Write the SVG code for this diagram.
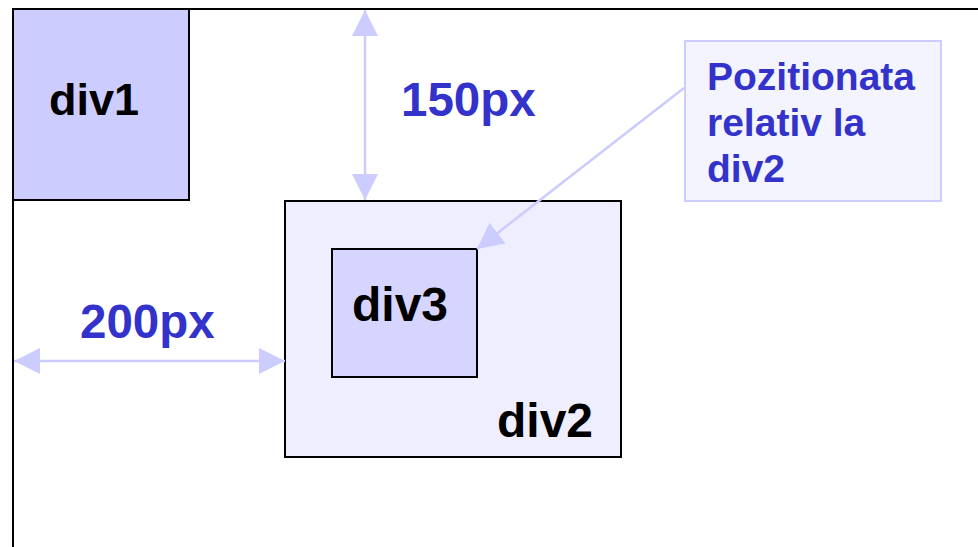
<svg xmlns="http://www.w3.org/2000/svg" width="978" height="547" viewBox="0 0 978 547">
<defs>
<style>
.box{stroke:#000;stroke-width:2}
.lbl{font-family:"Liberation Sans",Arial,sans-serif;font-weight:bold;fill:#000}
.blue{font-family:"Liberation Sans",Arial,sans-serif;font-weight:bold;fill:#3333CC}
.conn{stroke:#CCCCFF;stroke-width:2.5;fill:none}
</style>
<marker id="ah" viewBox="0 0 26 26" refX="26" refY="13" markerWidth="26" markerHeight="26" markerUnits="userSpaceOnUse" orient="auto-start-reverse">
<path d="M0,0 L26,13 L0,26 Z" fill="#CCCCFF"/>
</marker>
</defs>
<rect width="978" height="547" fill="#fff"/>
<path d="M13,547 V9 H978" fill="none" stroke="#000" stroke-width="2"/>
<g id="div1">
<rect class="box" x="13" y="9" width="176" height="191" fill="#CCCCFF"/>
<text class="lbl" x="49" y="115" font-size="45">div1</text>
</g>
<g id="div2">
<rect class="box" x="285" y="201" width="336" height="256" fill="#EEEEFF"/>
<text class="lbl" x="497" y="437" font-size="48">div2</text>
</g>
<g id="div3">
<rect class="box" x="332" y="249" width="145" height="128" fill="#D5D5FF"/>
<text class="lbl" x="352" y="321" font-size="48">div3</text>
</g>
<g id="callout">
<rect x="685" y="41" width="256" height="160" fill="#F4F4FF" stroke="#CCCCFF" stroke-width="2"/>
<text class="blue" font-size="39"><tspan x="707" y="90">Pozitionata</tspan><tspan x="707" y="136">relativ la</tspan><tspan x="707" y="182">div2</tspan></text>
</g>
<g id="label-150"><text class="blue" x="401" y="116" font-size="47.5">150px</text></g>
<g id="label-200"><text class="blue" x="80" y="338" font-size="47.5">200px</text></g>
<g id="connectors">
<line class="conn" x1="365" y1="10" x2="365" y2="200" marker-start="url(#ah)" marker-end="url(#ah)"/>
<line class="conn" x1="14" y1="361" x2="285" y2="361" marker-start="url(#ah)" marker-end="url(#ah)"/>
<line class="conn" x1="684" y1="88" x2="477" y2="249" marker-end="url(#ah)"/>
</g>
</svg>
